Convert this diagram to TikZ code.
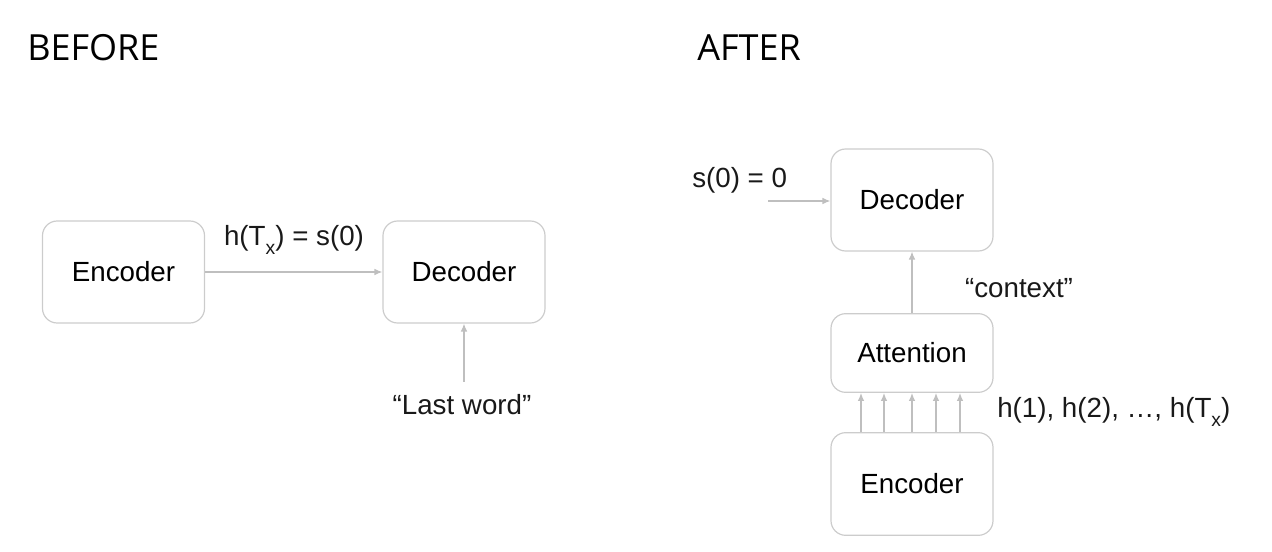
\documentclass[tikz,border=0pt]{standalone}
\usepackage{fontspec}
\setmainfont{Liberation Sans}
\newfontfamily\titlefont{Open Sans}
\usetikzlibrary{arrows.meta}
\newcommand{\subx}{\raisebox{-0.6ex}{\fontsize{14.5}{14.5}\selectfont x}}
\tikzset{
  box/.style={draw=black!20, line width=0.9pt, rounded corners=11pt, minimum width=121.5pt, font=\fontsize{20.8}{24}\selectfont, inner sep=0pt},
  conn/.style={draw=black!25, line width=0.9pt, -{Latex[length=6pt,width=5pt]}},
  lbl/.style={font=\fontsize{20.8}{24}\selectfont, inner sep=0pt, text=black!90},
  ttl/.style={font=\titlefont\fontsize{27}{30}\selectfont, inner sep=0pt, anchor=west}
}
\begin{document}
\begin{tikzpicture}[x=0.75pt,y=-0.75pt]
\useasboundingbox (0,0) rectangle (1272,552);
% titles
\node[ttl] (tb) at (27,48) {BEFORE};
\node[ttl] (ta) at (697,48) {AFTER};
% BEFORE
\node[box, minimum height=76.5pt] (enc1) at (123.5,272) {Encoder};
\node[box, minimum height=76.5pt] (dec1) at (464,272) {Decoder};
\draw[conn] (enc1.east) -- (dec1.west);
\node[lbl] (l1) at (294,240) {h(T\subx) = s(0)};
\node[lbl] (lw) at (462,405) {“Last word”};
\coordinate (lwt) at (464,382);
\draw[conn] (lwt) -- (dec1.south);
% AFTER
\node[box, minimum height=76.5pt] (dec2) at (912,200) {Decoder};
\node[box, minimum height=59pt] (att) at (912,353) {Attention};
\node[box, minimum height=77pt] (enc2) at (912,484) {Encoder};
\node[lbl, anchor=west] (s0) at (692,180) {s(0) = 0};
\coordinate (s0a) at (768,201);
\draw[conn] (s0a) -- (s0a -| dec2.west);
\draw[conn] (att.north) -- (dec2.south);
\node[lbl] (ctx) at (1019,288) {“context”};
\foreach \xx in {861,884,912,936,960}{
  \draw[conn] (\xx,432) -- (\xx,393);
}
\node[lbl, anchor=west] (hs) at (997,412) {h(1), h(2), …, h(T\subx)};
\end{tikzpicture}
\end{document}
